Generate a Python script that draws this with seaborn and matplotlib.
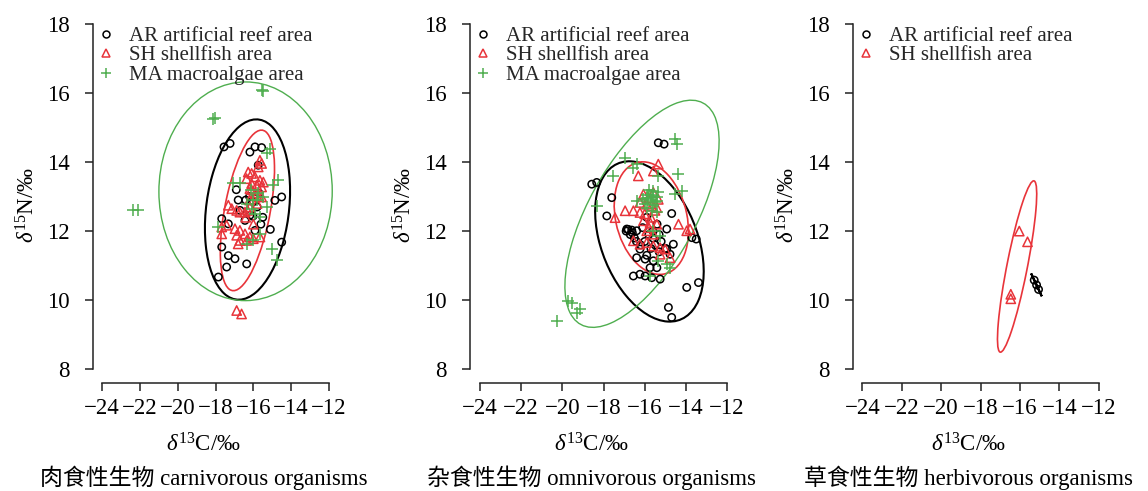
import numpy as np
import matplotlib
matplotlib.use("Agg")
import matplotlib.pyplot as plt
import seaborn as sns
from matplotlib.lines import Line2D
from matplotlib.patches import Ellipse

# ---------------- data ----------------
# Panel 1: carnivorous
p1_ar_x = [-17.55, -17.23, -16.18, -15.91, -15.56, -15.74, -14.86, -14.50, -16.18, -16.02, -16.44,
           -17.67, -17.32, -15.91, -15.10, -14.50, -17.67, -17.32, -16.97, -16.35, -17.41, -17.85,
           -16.70, -16.00, -16.90, -15.80, -16.40, -15.60, -16.20, -15.50, -16.80, -15.70]
p1_ar_y = [14.44, 14.54, 14.29, 14.44, 14.42, 13.91, 12.89, 12.99, 12.46, 12.43, 12.31,
           12.36, 12.21, 12.02, 12.05, 11.68, 11.54, 11.29, 11.20, 11.05, 10.96, 10.67,
           12.60, 12.85, 13.20, 12.70, 12.90, 12.20, 13.00, 12.40, 12.90, 13.10]
p1_sh_x = [-15.65, -15.56, -15.74, -16.27, -16.09, -16.36, -15.91, -15.65, -15.47, -16.09, -15.82,
           -15.56, -16.18, -15.82, -15.56, -17.32, -17.14, -16.88, -16.71, -16.18, -16.44, -17.67,
           -17.41, -17.67, -16.97, -16.71, -16.88, -16.44, -16.18, -16.71, -16.35, -16.00, -15.65,
           -16.80, -16.88, -16.62, -16.20, -15.90, -16.40, -16.00, -15.80, -16.10, -16.30, -15.70]
p1_sh_y = [14.05, 13.96, 13.86, 13.71, 13.67, 13.52, 13.57, 13.47, 13.42, 13.38, 13.33,
           13.28, 13.23, 13.04, 12.99, 12.75, 12.65, 12.60, 12.55, 12.70, 12.55, 12.12,
           12.17, 11.92, 12.07, 12.02, 11.88, 11.92, 11.83, 11.73, 11.73, 11.78, 11.83,
           11.63, 9.70, 9.60, 12.90, 13.10, 12.40, 12.20, 12.80, 13.20, 12.60, 13.00]
p1_ma_x = [-15.56, -15.47, -18.12, -18.03, -22.35, -22.08, -15.12, -15.29, -17.06, -16.71, -14.68,
           -14.95, -15.47, -15.29, -16.00, -15.74, -16.35, -16.09, -17.85, -16.35, -16.00, -15.65,
           -15.03, -14.77, -15.65, -15.80, -16.10, -15.90]
p1_ma_y = [16.10, 16.07, 15.26, 15.29, 12.60, 12.62, 14.39, 14.25, 13.38, 13.39, 13.47,
           13.33, 12.99, 12.70, 12.89, 13.09, 12.80, 12.65, 12.12, 11.63, 11.73, 11.92,
           11.49, 11.15, 12.40, 12.90, 13.20, 12.50]

# Panel 2: omnivorous
p2_ar_x = [-15.34, -15.06, -18.57, -18.33, -17.60, -17.84, -14.69, -16.87, -16.63, -16.39, -14.93,
           -13.71, -13.50, -16.23, -16.39, -15.98, -15.58, -14.93, -14.61, -14.77, -16.55, -16.23,
           -15.98, -15.66, -15.25, -15.74, -15.41, -13.96, -13.39, -14.85, -14.69,
           -16.90, -16.70, -16.50, -16.00, -15.70, -15.30, -15.80, -15.40, -15.90,
           -16.80, -16.60, -16.40, -16.20, -15.60, -15.50, -15.20, -15.00, -16.10, -15.90, -15.60, -15.30]
p2_ar_y = [14.56, 14.52, 13.36, 13.41, 12.97, 12.44, 12.51, 12.06, 12.03, 12.01, 12.06,
           11.81, 11.77, 11.48, 11.23, 11.19, 11.14, 11.48, 11.62, 11.33, 10.70, 10.75,
           10.70, 10.65, 10.61, 10.94, 10.94, 10.37, 10.51, 9.79, 9.50,
           12.00, 11.90, 11.80, 11.70, 11.50, 11.40, 11.90, 12.20, 12.40,
           12.05, 11.95, 11.70, 11.60, 11.80, 11.60, 11.70, 11.50, 12.10, 11.30, 12.00, 11.90]
p2_sh_x = [-16.31, -15.34, -15.58, -16.95, -17.44, -16.55, -16.23, -16.06, -15.82, -15.58, -15.34,
           -15.90, -15.66, -15.41, -16.23, -14.36, -13.96, -13.80, -16.55, -16.23, -15.90, -15.58,
           -15.25, -15.01, -16.06, -15.74, -15.41, -15.90, -15.58, -15.25, -14.77,
           -16.00, -15.70, -15.50, -15.80]
p2_sh_y = [13.60, 13.94, 13.74, 12.59, 12.39, 12.59, 12.54, 13.07, 12.97, 13.12, 12.92,
           12.78, 12.73, 12.68, 12.83, 12.20, 12.01, 12.06, 11.72, 11.62, 11.67, 11.57,
           11.52, 11.48, 12.30, 12.25, 12.20, 12.01, 11.91, 11.33, 11.23,
           12.50, 12.40, 12.60, 12.10]
p2_ma_x = [-14.52, -14.44, -16.95, -16.39, -14.36, -15.34, -17.52, -14.20, -14.52, -18.33, -16.39,
           -16.06, -15.82, -15.58, -15.41, -15.34, -15.90, -15.66, -15.41, -15.58, -15.25, -15.34,
           -14.93, -14.77, -15.74, -19.71, -19.54, -19.30, -19.14, -20.27, -16.55,
           -15.90, -15.70, -15.50, -15.80, -15.60, -16.00, -15.40, -15.70, -15.60, -15.90]
p2_ma_y = [14.66, 14.52, 14.13, 13.94, 13.65, 13.60, 13.60, 13.17, 13.07, 12.73, 12.88,
           12.92, 12.97, 13.02, 12.88, 13.12, 12.68, 12.59, 12.54, 12.01, 11.86, 11.14,
           11.04, 10.94, 10.70, 9.98, 9.93, 9.64, 9.74, 9.40, 13.84,
           12.95, 13.05, 12.85, 13.20, 12.75, 12.80, 13.00, 12.90, 13.15, 13.05]

# Panel 3: herbivorous
p3_ar_x = [-15.27, -15.15, -15.05]
p3_ar_y = [10.58, 10.44, 10.31]
p3_sh_x = [-16.03, -15.61, -16.46, -16.46]
p3_sh_y = [12.00, 11.69, 10.17, 10.04]

group_labels = ["AR artificial reef area", "SH shellfish area", "MA macroalgae area"]
panel_titles = ["肉食性生物 carnivorous organisms", "杂食性生物 omnivorous organisms",
                "草食性生物 herbivorous organisms"]
x_ticks = [-24, -22, -20, -18, -16, -14, -12]
y_ticks = [8, 10, 12, 14, 16, 18]

# ---------------- style ----------------
sns.set_theme(style="ticks")
plt.rcParams["font.family"] = ["Liberation Serif", "Noto Sans CJK SC"]
plt.rcParams["mathtext.fontset"] = "custom"
plt.rcParams["mathtext.rm"] = "Liberation Serif"
plt.rcParams["mathtext.it"] = "Liberation Serif:italic"
plt.rcParams["axes.unicode_minus"] = True

COL = {"AR": "#000000", "SH": "#E8343A", "MA": "#4FAE4F"}
MK = {"AR": "o", "SH": "^", "MA": "+"}
SZ = {"AR": 28, "SH": 45, "MA": 70}

W, H = 1148, 491
fig = plt.figure(figsize=(W / 100, H / 100), dpi=100)

panels_px = [(93, 338), (470, 737), (853, 1108)]
top_px, bot_px = 10.2, 383.0


def ellipse_patch(x, y, color, lw, p_chi2=5.991):
    """95% prediction ellipse computed from the group's points."""
    pts = np.column_stack([x, y])
    mu = pts.mean(axis=0)
    cov = np.cov(pts, rowvar=False)
    vals, vecs = np.linalg.eigh(cov)
    vals = np.maximum(vals, 1e-9)
    major = vecs[:, 1]
    angle = np.degrees(np.arctan2(major[1], major[0]))
    width = 2 * np.sqrt(vals[1] * p_chi2)
    height = 2 * np.sqrt(vals[0] * p_chi2)
    return Ellipse(mu, width, height, angle=angle, facecolor="none", edgecolor=color,
                   lw=lw, zorder=2)


datasets = [
    {"AR": (p1_ar_x, p1_ar_y), "SH": (p1_sh_x, p1_sh_y), "MA": (p1_ma_x, p1_ma_y)},
    {"AR": (p2_ar_x, p2_ar_y), "SH": (p2_sh_x, p2_sh_y), "MA": (p2_ma_x, p2_ma_y)},
    {"AR": (p3_ar_x, p3_ar_y), "SH": (p3_sh_x, p3_sh_y)},
]
ylab_x = [28, 405, 788]
lw_ell = {"AR": 1.5, "SH": 1.2, "MA": 1.0}

for i, (ds, (lpx, rpx)) in enumerate(zip(datasets, panels_px)):
    ax = fig.add_axes([lpx / W, 1 - bot_px / H, (rpx - lpx) / W, (bot_px - top_px) / H])
    handles = []
    for key, (gx, gy) in ds.items():
        ax.add_patch(ellipse_patch(gx, gy, COL[key], lw_ell[key]))
    for key, (gx, gy) in ds.items():
        if key == "MA":
            sns.scatterplot(x=gx, y=gy, ax=ax, marker="+", s=SZ[key], color=COL[key],
                            linewidth=1.1, zorder=3, legend=False)
        else:
            sns.scatterplot(x=gx, y=gy, ax=ax, marker=MK[key], s=SZ[key], facecolor="none",
                            edgecolor=COL[key], linewidth=1.1, zorder=3, legend=False)
        idx = ["AR", "SH", "MA"].index(key)
        handles.append(Line2D([], [], ls="none", marker=MK[key], mfc="none", mec=COL[key],
                              color=COL[key], ms={"AR": 5, "SH": 6, "MA": 7}[key], mew=1.1,
                              label=group_labels[idx]))
    ax.set_xlim(-24.48, -11.52)
    ax.set_ylim(7.6, 18.4)
    ax.set_xticks(x_ticks)
    ax.set_yticks(y_ticks)
    for s in ["top", "right"]:
        ax.spines[s].set_visible(False)
    ax.spines["left"].set_bounds(8, 18)
    ax.spines["bottom"].set_bounds(-24, -12)
    for s in ["left", "bottom"]:
        ax.spines[s].set_color("#222222")
        ax.spines[s].set_linewidth(1.1)
    ax.tick_params(axis="both", which="major", direction="out", length=6, width=1.1,
                   color="#222222", labelsize=16.5, labelcolor="#000000",
                   bottom=True, left=True, top=False, right=False)
    ax.tick_params(axis="y", pad=11)
    ax.tick_params(axis="x", pad=5)
    ax.set_xlabel("")
    ax.set_ylabel("")
    ax.grid(False)
    ax.legend(handles=handles, loc="upper left", bbox_to_anchor=(-0.03, 0.985), frameon=False,
              fontsize=15, handlelength=1.0, handletextpad=0.6, labelspacing=0.0,
              borderaxespad=0.3, borderpad=0.2)

    cx = (lpx + rpx) / 2 - 12
    fig.text(cx / W, 1 - 445 / H, "$\\delta^{13}$C/‰", ha="center", va="center", fontsize=16.5,
             color="#000000")
    fig.text(cx / W, 1 - 478 / H, panel_titles[i], ha="center", va="center", fontsize=16.5,
             color="#000000")
    fig.text(ylab_x[i] / W, 1 - 205 / H, "$\\delta^{15}$N/‰", ha="center", va="center",
             rotation=90, fontsize=16.5, color="#000000")

fig.savefig("out.png", dpi=100, facecolor="white")
